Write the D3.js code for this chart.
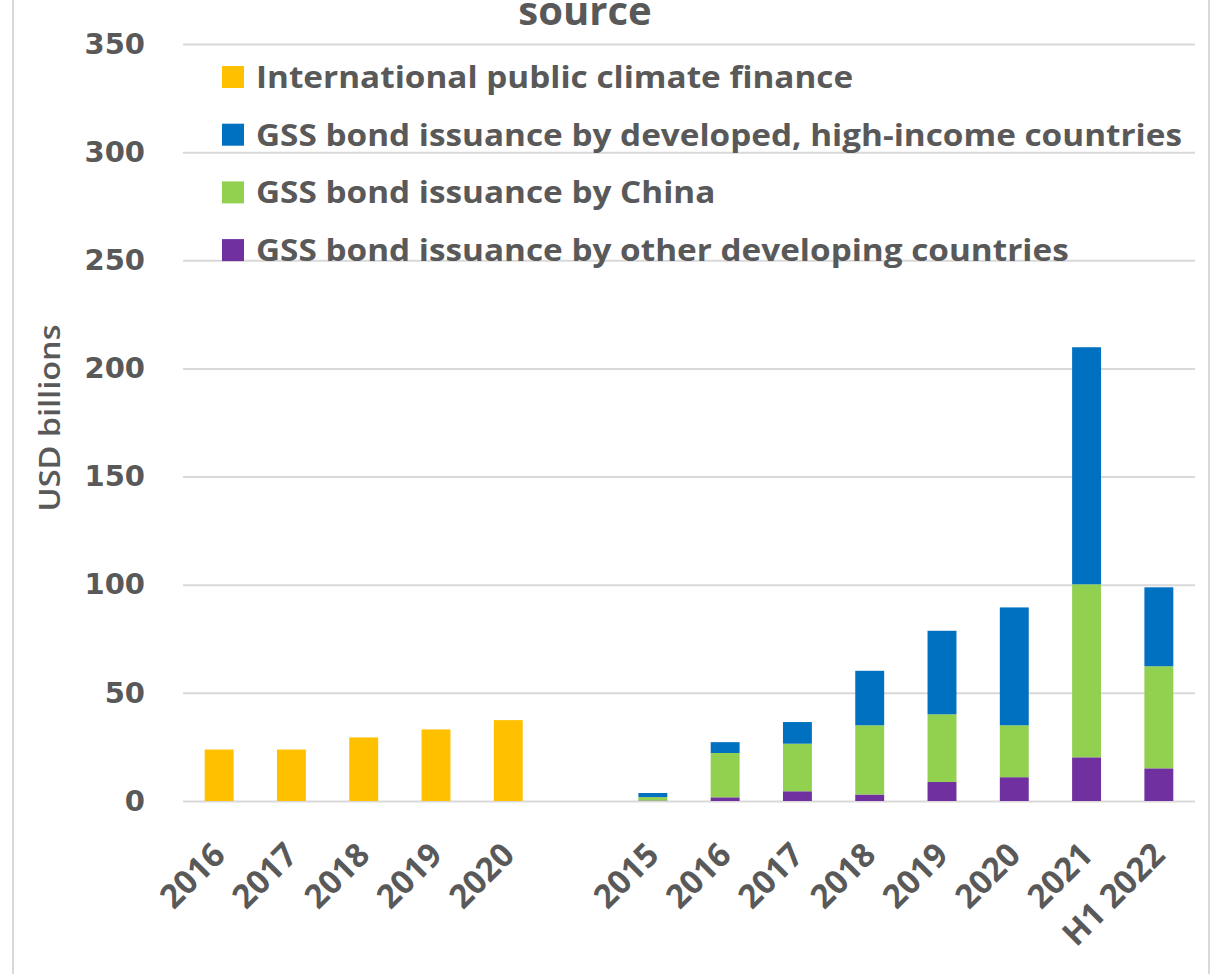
<!DOCTYPE html>
<html>
<head>
<meta charset="utf-8">
<script src="https://cdn.jsdelivr.net/npm/d3@7"></script>
<style>
  html, body { margin: 0; padding: 0; background: #fff; }
  svg { display: block; }
</style>
</head>
<body>
<svg id="chart" width="1215" height="974"></svg>
<script>
// International public climate finance, USD billions
const climateYears = ["2016", "2017", "2018", "2019", "2020"];
const climateFinance = [23.8, 23.8, 29.4, 33.1, 37.4];

// GSS (green, social, sustainability) bond issuance, USD billions
const bondYears = ["2015", "2016", "2017", "2018", "2019", "2020", "2021", "H1 2022"];
const bondOtherDeveloping = [0.2, 1.7, 4.5, 3.0, 8.8, 11.0, 20.2, 15.1];
const bondChina = [1.6, 20.5, 22.0, 32.0, 31.3, 24.0, 80.0, 47.2];
const bondDeveloped = [1.9, 5.0, 10.0, 25.2, 38.6, 54.5, 109.6, 36.5];

const yTicks = [0, 50, 100, 150, 200, 250, 300, 350];

const seriesNames = [
  "International public climate finance",
  "GSS bond issuance by developed, high-income countries",
  "GSS bond issuance by China",
  "GSS bond issuance by other developing countries"
];
const seriesColors = ["#FFC000", "#0070C0", "#92D050", "#7030A0"];

const textColor = "#595959";
const gridColor = "#D9D9D9";

const svg = d3.select("#chart");

// Category axis: climate finance years, an empty spacer slot, then bond years
const climateKeys = climateYears.map(y => "pub-" + y);
const bondKeys = bondYears.map(y => "gss-" + y);
const domainKeys = [...climateKeys, "spacer", ...bondKeys];
const labelOf = new Map([
  ...climateKeys.map((k, i) => [k, climateYears[i]]),
  ...bondKeys.map((k, i) => [k, bondYears[i]])
]);

const plotLeft = 183, plotRight = 1195, plotTop = 44, plotBottom = 801;

const x = d3.scaleBand()
  .domain(domainKeys)
  .range([plotLeft, plotRight])
  .paddingInner(0.6)
  .paddingOuter(0.3);

const y = d3.scaleLinear()
  .domain([0, 350])
  .range([plotBottom, plotTop]);

// Outer frame lines
svg.append("line").attr("x1", 13).attr("x2", 13).attr("y1", 0).attr("y2", 974)
  .attr("stroke", gridColor).attr("stroke-width", 2);
svg.append("line").attr("x1", 1209).attr("x2", 1209).attr("y1", 0).attr("y2", 974)
  .attr("stroke", gridColor).attr("stroke-width", 2);

// Title (last line of the heading)
svg.append("text")
  .attr("x", 585).attr("y", 25)
  .attr("text-anchor", "middle")
  .attr("font-family", "'Open Sans', sans-serif")
  .attr("font-weight", "bold")
  .attr("font-size", 40)
  .attr("fill", textColor)
  .text("source");

// Y axis with gridlines
const yAxis = svg.append("g")
  .attr("transform", `translate(${plotLeft},0)`)
  .call(d3.axisLeft(y)
    .tickValues(yTicks)
    .tickSizeInner(-(plotRight - plotLeft))
    .tickSizeOuter(0)
    .tickPadding(38)
    .tickFormat(d3.format("d")));
yAxis.select(".domain").remove();
yAxis.selectAll(".tick line")
  .attr("stroke", gridColor)
  .attr("stroke-width", 2);
yAxis.selectAll(".tick text")
  .attr("fill", textColor)
  .attr("font-family", "'DejaVu Sans', sans-serif")
  .attr("font-weight", "bold")
  .attr("font-size", 29);

// Y axis title
svg.append("text")
  .attr("transform", `translate(60,418) rotate(-90)`)
  .attr("text-anchor", "middle")
  .attr("font-family", "'Open Sans', sans-serif")
  .attr("font-weight", 600)
  .attr("font-size", 29)
  .attr("fill", textColor)
  .attr("textLength", 187)
  .attr("lengthAdjust", "spacingAndGlyphs")
  .text("USD billions");

// Climate finance bars
svg.append("g").selectAll("rect")
  .data(climateFinance)
  .join("rect")
  .attr("x", (d, i) => x(climateKeys[i]))
  .attr("width", x.bandwidth())
  .attr("y", d => y(d))
  .attr("height", d => y(0) - y(d))
  .attr("fill", seriesColors[0]);

// Stacked GSS bond bars (bottom to top: other developing, China, developed)
const bondRows = bondYears.map((yr, i) => ({
  key: bondKeys[i],
  other: bondOtherDeveloping[i],
  china: bondChina[i],
  developed: bondDeveloped[i]
}));
const stack = d3.stack().keys(["other", "china", "developed"]);
const stacked = stack(bondRows);
const stackColors = { other: seriesColors[3], china: seriesColors[2], developed: seriesColors[1] };

svg.append("g").selectAll("g")
  .data(stacked)
  .join("g")
  .attr("fill", s => stackColors[s.key])
  .selectAll("rect")
  .data(s => s)
  .join("rect")
  .attr("x", d => x(d.data.key))
  .attr("width", x.bandwidth())
  .attr("y", d => y(d[1]))
  .attr("height", d => y(d[0]) - y(d[1]));

// X axis labels, rotated
const xLabels = svg.append("g");
domainKeys.filter(k => labelOf.has(k)).forEach(k => {
  const cx = x(k) + x.bandwidth() / 2;
  xLabels.append("text")
    .attr("transform", `translate(${cx + 8},857) rotate(-45)`)
    .attr("text-anchor", "end")
    .attr("font-family", "'Open Sans', sans-serif")
    .attr("font-weight", "bold")
    .attr("font-size", 33)
    .attr("fill", textColor)
    .text(labelOf.get(k));
});

// Legend
const legendX = 222, legendTop = 77, legendStep = 57.7;
const legend = svg.append("g");
seriesNames.forEach((name, i) => {
  const cy = legendTop + i * legendStep;
  legend.append("rect")
    .attr("x", legendX).attr("y", cy - 11)
    .attr("width", 22).attr("height", 22)
    .attr("fill", seriesColors[i]);
});
const legendTexts = legend.selectAll("text.leg")
  .data(seriesNames)
  .join("text")
  .attr("class", "leg")
  .attr("font-family", "'Open Sans', sans-serif")
  .attr("font-weight", "bold")
  .attr("font-size", 31)
  .attr("fill", textColor)
  .attr("y", (d, i) => legendTop + i * legendStep + 11)
  .text(d => d);
// Narrow the legend type so the longest entry spans the legend width
const longest = d3.max(legendTexts.nodes(), n => n.getComputedTextLength());
const sx = 926 / longest;
legendTexts.each(function () {
  const w = this.getComputedTextLength();
  d3.select(this).attr("x", 256).attr("textLength", w * sx).attr("lengthAdjust", "spacingAndGlyphs");
});
</script>
</body>
</html>
